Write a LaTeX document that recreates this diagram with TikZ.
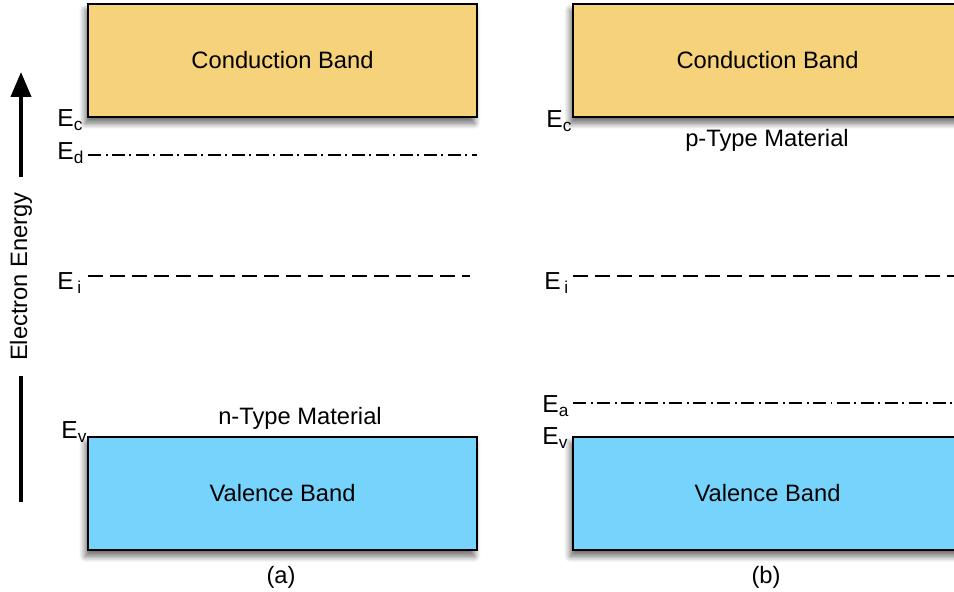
\documentclass[tikz,border=0pt]{standalone}
\usepackage{fontspec}
\setmainfont{Liberation Sans}
\usetikzlibrary{arrows.meta,shadows.blur}
\definecolor{cbandfill}{RGB}{246,210,122}
\definecolor{vbandfill}{RGB}{118,212,252}
\tikzset{font=\fontsize{13.5}{16}\selectfont}
\tikzset{band/.style={draw, line width=1pt, minimum width=7.78cm, minimum height=2.26cm,
  blur shadow={shadow xshift=-1.5pt, shadow yshift=-3.5pt, shadow blur radius=3.5pt, shadow blur steps=8, shadow opacity=60}}}
\tikzset{lvl/.style={inner sep=0pt, anchor=base west, font=\fontsize{14}{16}\selectfont}}
\tikzset{dashdot/.style={line width=0.8pt, dash pattern=on 0.26cm off 0.09cm on 0.04cm off 0.09cm}}
\tikzset{dashline/.style={line width=0.8pt, dash pattern=on 0.3cm off 0.14cm}}

\begin{document}
\begin{tikzpicture}
\clip (0,0) rectangle (19.08,11.84);
% bands
\node[band, fill=cbandfill] (cb-a) at (5.65,10.63) {Conduction Band};
\node[band, fill=vbandfill] (vb-a) at (5.65,1.97) {Valence Band};
\node[band, fill=cbandfill] (cb-b) at (15.35,10.63) {Conduction Band};
\node[band, fill=vbandfill] (vb-b) at (15.35,1.97) {Valence Band};
% energy axis
\coordinate (en-bot) at (0.42,1.80);
\coordinate (en-top) at (0.42,10.40);
\node[rotate=90, inner xsep=0.3cm, inner ysep=0pt] (energy) at (0.42,6.31) {Electron Energy};
\draw[line width=0.08cm] (en-bot) -- (energy);
\draw[line width=0.08cm, -{Triangle[width=0.4cm,length=0.5cm]}] (energy) -- (en-top);
% levels, n-type
\node[lvl] (ec-a) at (1.14,9.30) {E\textsubscript{c}};
\node[lvl] (ed-a) at (1.14,8.64) {E\textsubscript{d}};
\node[lvl] (ei-a) at (1.14,6.04) {E\hspace{0.15em}\textsubscript{i}};
\node[lvl] (ev-a) at (1.22,3.06) {E\textsubscript{v}};
\coordinate (ed-l) at (1.76,8.74);
\coordinate (ed-r) at (9.54,8.74);
\coordinate (ei-al) at (1.76,6.32);
\coordinate (ei-ar) at (9.40,6.32);
\draw[dashdot] (ed-l) -- (ed-r);
\draw[dashline] (ei-al) -- (ei-ar);
\node[anchor=base] (ntype) at (6.00,3.34) {n-Type Material};
\node (cap-a) at (5.62,0.30) {(a)};
% levels, p-type
\node[lvl] (ec-b) at (10.92,9.28) {E\textsubscript{c}};
\node[lvl] (ei-b) at (10.88,6.04) {E\hspace{0.15em}\textsubscript{i}};
\node[lvl] (ea-b) at (10.84,3.58) {E\textsubscript{a}};
\node[lvl] (ev-b) at (10.84,2.94) {E\textsubscript{v}};
\coordinate (ei-bl) at (11.46,6.32);
\coordinate (ei-br) at (19.08,6.32);
\coordinate (ea-l) at (11.46,3.78);
\coordinate (ea-r) at (19.08,3.78);
\draw[dashline] (ei-bl) -- (ei-br);
\draw[dashdot] (ea-l) -- (ea-r);
\node[anchor=base] (ptype) at (15.34,8.90) {p-Type Material};
\node (cap-b) at (15.32,0.30) {(b)};
\end{tikzpicture}
\end{document}
